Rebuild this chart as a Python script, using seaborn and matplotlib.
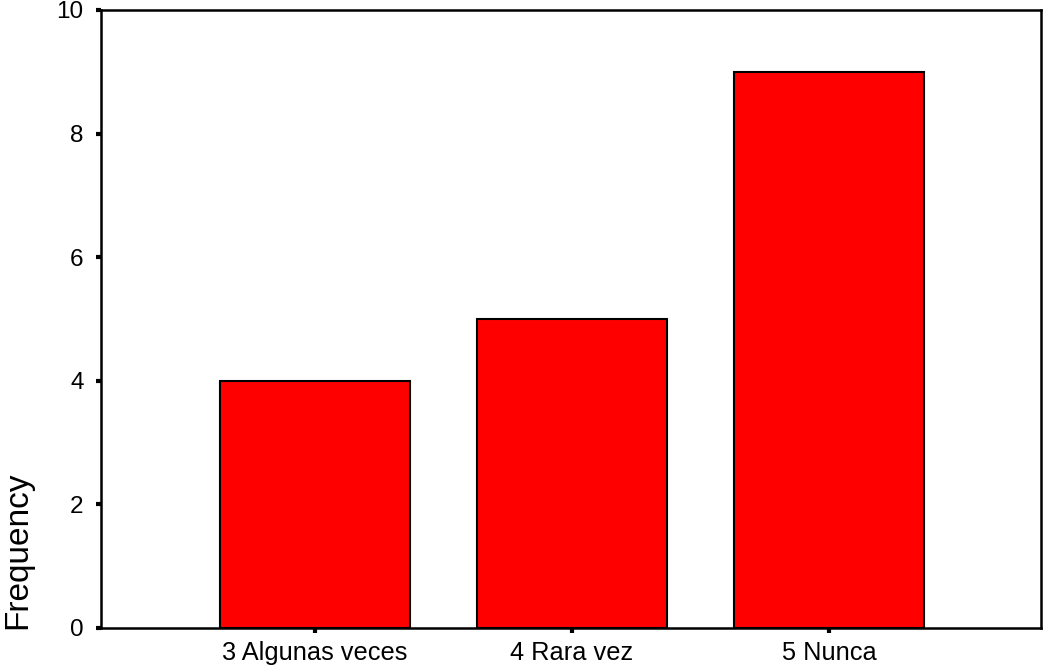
"""
Gráfico de barras de frecuencias (estilo SPSS)
"""

import pandas as pd
import matplotlib
matplotlib.use('Agg')
import matplotlib.pyplot as plt
import seaborn as sns

# Datos
categorias = ['3 Algunas veces', '4 Rara vez', '5 Nunca']
frecuencias = [4, 5, 9]
ticks_y = [0, 2, 4, 6, 8, 10]

sns.set_style('white')
plt.rcParams['font.family'] = ['Liberation Sans', 'DejaVu Sans']
plt.rcParams['text.color'] = 'black'
plt.rcParams['xtick.color'] = 'black'
plt.rcParams['ytick.color'] = 'black'

df = pd.DataFrame({'categoria': categorias, 'frecuencia': frecuencias})

fig = plt.figure(figsize=(10.44, 6.68), dpi=100)
ax = fig.add_axes([101 / 1044, 1 - 628 / 668, 940 / 1044, 618 / 668])

sns.barplot(data=df, x='categoria', y='frecuencia', color='#ff0000',
            saturation=1, width=0.74, edgecolor='black', linewidth=1.5, ax=ax)

ax.set_xlim(-0.833, 2.825)
ax.set_ylim(0, 10)
ax.set_yticks(ticks_y)

# Ejes y marcas
for spine in ax.spines.values():
    spine.set_visible(True)
    spine.set_color('black')
    spine.set_linewidth(1.8)

ax.tick_params(axis='both', direction='out', length=3.5, width=3,
               color='black', labelcolor='black', left=True, bottom=True)
ax.tick_params(axis='y', labelsize=17.5, pad=9)
ax.tick_params(axis='x', labelsize=18.3, pad=6)

ax.set_xlabel('')
ax.set_ylabel('Frequency', fontsize=24, color='black')
ax.yaxis.set_label_coords(-0.072, 0.126)

fig.savefig('out.png', dpi=100)
plt.close(fig)
